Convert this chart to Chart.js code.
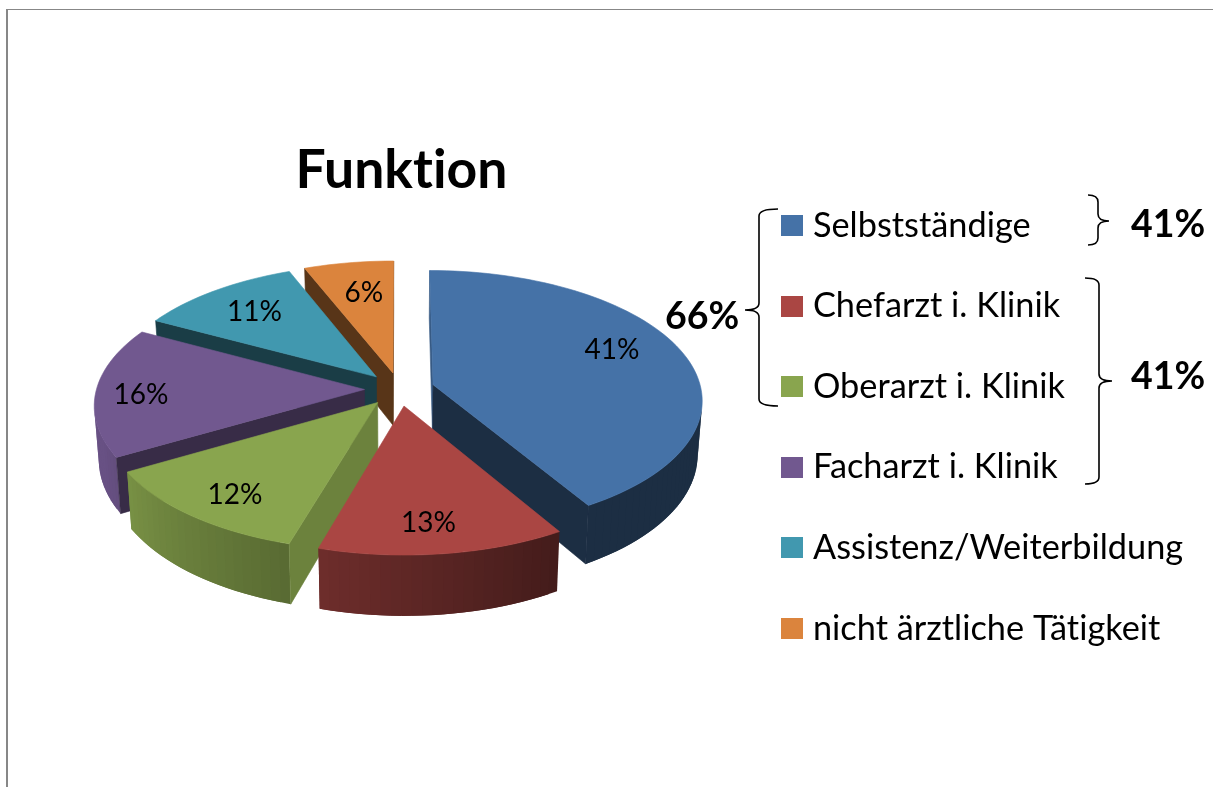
<!DOCTYPE html>
<html>
<head>
<meta charset="utf-8">
<title>Funktion</title>
<script src="https://cdn.jsdelivr.net/npm/chart.js@4"></script>
<style>
    body { margin: 0; background: #fff; }
    canvas { display: block; }
</style>
</head>
<body>
<canvas id="myChart" width="1213" height="787"></canvas>
<script>
const categories = ['Selbstständige', 'Chefarzt i. Klinik', 'Oberarzt i. Klinik', 'Facharzt i. Klinik', 'Assistenz/Weiterbildung', 'nicht ärztliche Tätigkeit'];
const shares = [41, 13, 12, 16, 11, 6];
const colours = ['#4572A7', '#AA4643', '#89A54E', '#71588F', '#4198AF', '#DB843D'];

// where each value label sits: fraction of the radius, and a small turn off the middle of the slice
const labelRadius = [0.75, 0.81, 0.81, 0.83, 0.74, 0.7];
const labelTurn = [-6.5, 1.6, -1.8, -2, 0, 1];

const FONT = 'Lato';
const SQUASH = 0.478;   // height of the disc against its width
const PERSP = 0.113;
const DEPTH = 0.198;    // wall height against the radius

function shade(hex, f) {
    const n = parseInt(hex.slice(1), 16);
    const r = Math.round((n >> 16) * f);
    const g = Math.round(((n >> 8) & 255) * f);
    const b = Math.round((n & 255) * f);
    return `rgb(${r},${g},${b})`;
}

// disc coordinates to the screen, z = 1 is the bottom of the wall
function project(arc, u, v, z) {
    const R = arc.outerRadius;
    const w = 1 - PERSP * v;
    const s = z ? 0.985 : 1;
    return {
        x: arc.x + R * u / w * s,
        y: arc.y + R * SQUASH * v / w + z * R * DEPTH / w
    };
}

function slicePoint(arc, angle, r, z) {
    const mid = (arc.startAngle + arc.endAngle) / 2;
    const e = arc.options.offset / arc.outerRadius;
    return project(arc, e * Math.cos(mid) + r * Math.cos(angle), e * Math.sin(mid) + r * Math.sin(angle), z);
}

function fillPoly(ctx, points, colour, outline) {
    ctx.beginPath();
    points.forEach((p, i) => i ? ctx.lineTo(p.x, p.y) : ctx.moveTo(p.x, p.y));
    ctx.closePath();
    ctx.fillStyle = colour;
    ctx.fill();
    if (outline) {
        ctx.strokeStyle = colour;
        ctx.lineWidth = 0.6;
        ctx.stroke();
    }
}

// negative area on a y-down canvas: the face looks towards us
function facesUs(points) {
    let area = 0;
    points.forEach((p, i) => {
        const q = points[(i + 1) % points.length];
        area += p.x * q.y - q.x * p.y;
    });
    return area < 0;
}

function degrees(angle) {
    return (angle + Math.PI / 2) * 180 / Math.PI;
}

function edgeShade(normal) {
    return normal < 106 ? 0.79 : Math.max(0.4, 0.79 - (normal - 106) * 0.0066);
}

function outerShade(deg) {
    return Math.min(0.92, Math.max(0.4, 0.4 + (deg - 150) * 0.0053));
}

function drawSlice(ctx, arc, colour) {
    const a0 = arc.startAngle;
    const a1 = arc.endAngle;

    // outer wall in thin strips so the shading can follow the angle
    const steps = Math.ceil((a1 - a0) / (Math.PI / 90));
    const step = (a1 - a0) / steps;
    for (let i = 0; i < steps; i++) {
        const s = a0 + step * i;
        const e = a0 + step * (i + 1);
        const quad = [slicePoint(arc, s, 1, 0), slicePoint(arc, e, 1, 0), slicePoint(arc, e, 1, 1), slicePoint(arc, s, 1, 1)];
        if (facesUs(quad)) {
            // runs one step long, the next strip paints over it and leaves no seam
            const over = Math.min(a1, e + step);
            fillPoly(ctx, [quad[0], slicePoint(arc, over, 1, 0), slicePoint(arc, over, 1, 1), quad[3]],
                shade(colour, outerShade(degrees((s + e) / 2))), false);
        }
    }

    // cut faces, only the ones turned to the viewer
    const first = [slicePoint(arc, a0, 0, 0), slicePoint(arc, a0, 1, 0), slicePoint(arc, a0, 1, 1), slicePoint(arc, a0, 0, 1)];
    if (facesUs(first)) {
        fillPoly(ctx, first, shade(colour, edgeShade(degrees(a0) - 90)), true);
    }
    const last = [slicePoint(arc, a1, 0, 0), slicePoint(arc, a1, 0, 1), slicePoint(arc, a1, 1, 1), slicePoint(arc, a1, 1, 0)];
    if (facesUs(last)) {
        fillPoly(ctx, last, shade(colour, edgeShade(degrees(a1) + 90)), true);
    }

    // top
    const top = [slicePoint(arc, a0, 0, 0)];
    for (let i = 0; i <= steps; i++) {
        top.push(slicePoint(arc, a0 + step * i, 1, 0));
    }
    fillPoly(ctx, top, colour, true);
}

function brace(ctx, x, y0, y1, tipX, midY, reach) {
    const r = 7;
    ctx.beginPath();
    ctx.moveTo(x + reach, y0);
    ctx.quadraticCurveTo(x, y0, x, y0 + r);
    ctx.lineTo(x, midY - r);
    ctx.quadraticCurveTo(x, midY, tipX, midY);
    ctx.quadraticCurveTo(x, midY, x, midY + r);
    ctx.lineTo(x, y1 - r);
    ctx.quadraticCurveTo(x, y1, x + reach, y1);
    ctx.strokeStyle = '#000';
    ctx.lineWidth = 1.6;
    ctx.stroke();
}

function swatch(colour) {
    const c = document.createElement('canvas');
    c.width = 22;
    c.height = 21;
    const g = c.getContext('2d');
    g.fillStyle = colour;
    g.fillRect(0, 0, 22, 21);
    return c;
}

const pie3d = {
    id: 'pie3d',
    afterLayout(chart) {
        chart.titleBlock.left += 2;
        chart.titleBlock.right += 2;
        const legend = chart.legend;
        legend.left = 742.5;
        legend.right = 1213;
        legend.top = 162;
        legend.bottom = 787;
    },
    beforeDraw(chart) {
        const ctx = chart.ctx;
        ctx.letterSpacing = '0.01px';   // keeps "ti" from joining up
        ctx.fillStyle = '#878787';
        ctx.fillRect(6, 9, 1207, 1);
        ctx.fillRect(6, 9, 2, 778);
    },
    beforeDatasetsDraw(chart) {
        const ctx = chart.ctx;
        const arcs = chart.getDatasetMeta(0).data;
        const depthOf = a => Math.sin((a.startAngle + a.endAngle) / 2);
        const order = arcs.map((a, i) => i).sort((p, q) => depthOf(arcs[p]) - depthOf(arcs[q]));
        order.forEach(i => drawSlice(ctx, arcs[i], colours[i]));
    },
    beforeDatasetDraw() {
        return false;
    },
    afterDatasetsDraw(chart) {
        const ctx = chart.ctx;
        const arcs = chart.getDatasetMeta(0).data;
        ctx.font = `28px ${FONT}`;
        ctx.fillStyle = '#000';
        ctx.textAlign = 'center';
        ctx.textBaseline = 'middle';
        arcs.forEach((arc, i) => {
            const mid = (arc.startAngle + arc.endAngle) / 2 + labelTurn[i] * Math.PI / 180;
            const p = slicePoint(arc, mid, labelRadius[i], 0);
            ctx.fillText(shares[i] + '%', p.x, p.y);
        });
    },
    afterDraw(chart) {
        const ctx = chart.ctx;
        brace(ctx, 759, 209, 406, 745, 310, 19);
        brace(ctx, 1098, 195, 245, 1109, 221, -10);
        brace(ctx, 1099, 278, 484, 1112, 381, -14);
        ctx.font = `bold 37.5px ${FONT}`;
        ctx.fillStyle = '#000';
        ctx.textAlign = 'left';
        ctx.textBaseline = 'middle';
        ctx.fillText('66%', 665, 316.5);
        ctx.fillText('41%', 1131, 225);
        ctx.fillText('41%', 1131, 377);
    }
};

new Chart(document.getElementById('myChart'), {
    type: 'pie',
    data: {
        labels: categories,
        datasets: [{
            data: shares,
            backgroundColor: colours,
            borderWidth: 0,
            radius: 268,
            offset: 35
        }]
    },
    plugins: [pie3d],
    options: {
        responsive: false,
        animation: false,
        layout: { padding: { left: 0, right: 414, top: 139, bottom: 211.8 } },
        plugins: {
            title: {
                display: true,
                text: 'Funktion',
                color: '#000',
                fullSize: false,
                padding: 0,
                font: { family: FONT, size: 53.5, weight: 'bold' }
            },
            legend: {
                position: 'chartArea',
                align: 'start',
                labels: {
                    color: '#000',
                    font: { family: FONT, size: 34.3 },
                    padding: 46.3,
                    usePointStyle: true,
                    pointStyleWidth: 7,
                    generateLabels: () => categories.map((text, i) => ({
                        text: text,
                        fillStyle: colours[i],
                        strokeStyle: colours[i],
                        fontColor: '#000',
                        lineWidth: 0,
                        pointStyle: swatch(colours[i]),
                        hidden: false,
                        index: i
                    }))
                }
            },
            tooltip: { enabled: false }
        }
    }
});
</script>
</body>
</html>
